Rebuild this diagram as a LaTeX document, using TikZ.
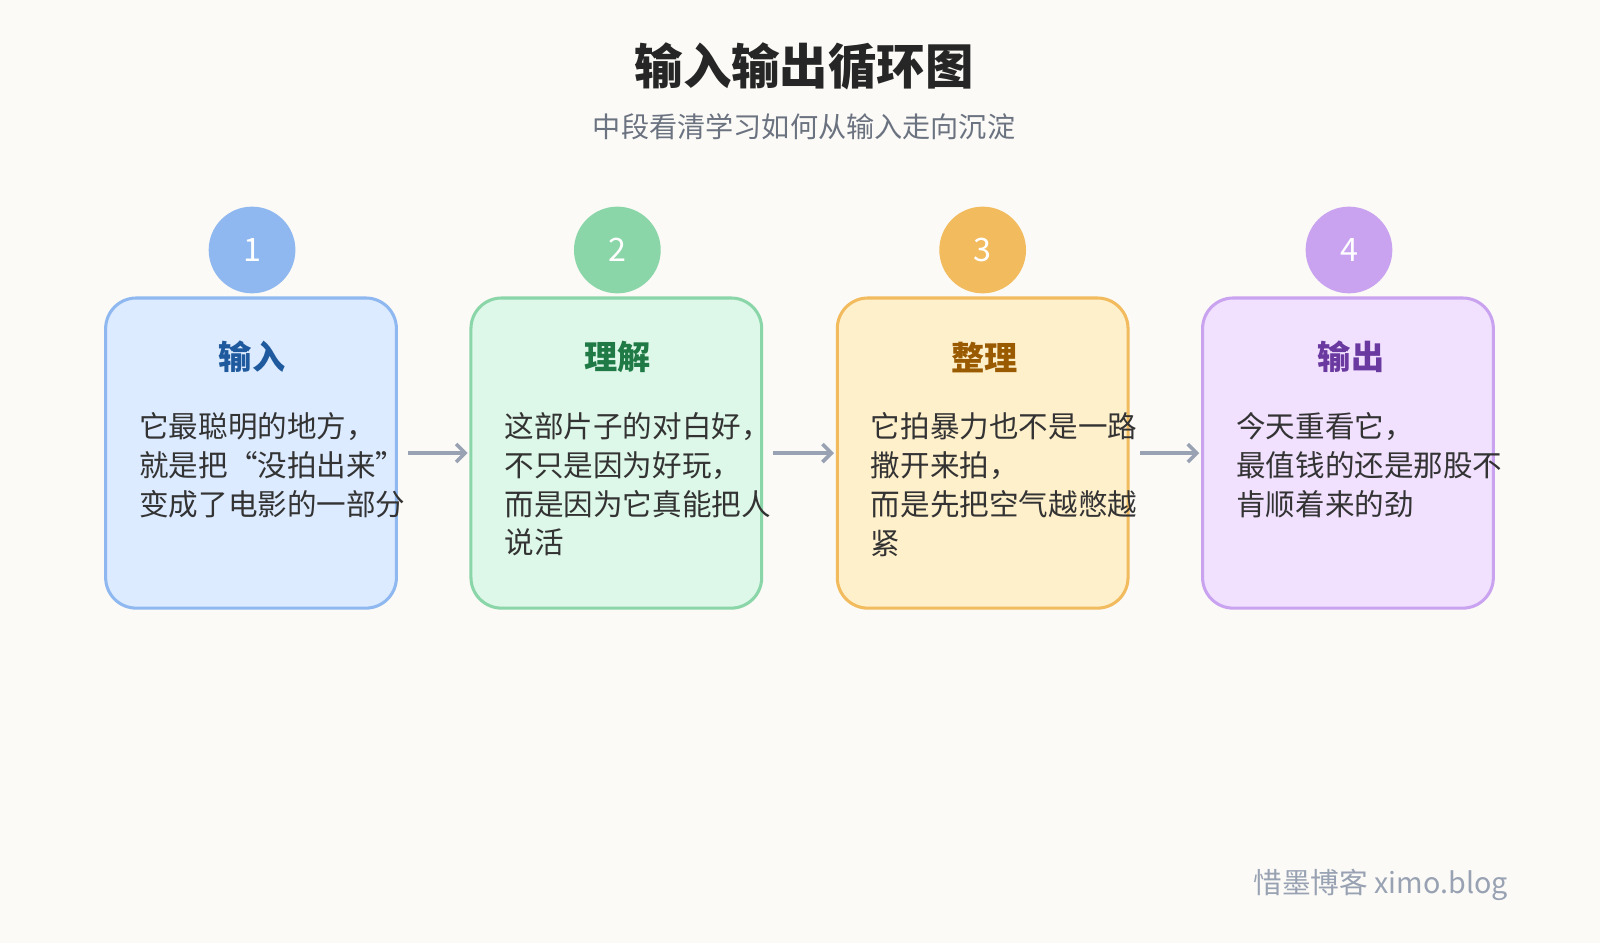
\documentclass[tikz,border=0pt]{standalone}
\usepackage{fontspec}
\setmainfont{Noto Sans CJK SC}
\usetikzlibrary{positioning}
\usetikzlibrary{arrows.meta}
\definecolor{bgc}{HTML}{FBFAF6}
\definecolor{txt}{HTML}{333333}
\definecolor{sub}{HTML}{6B7280}
\definecolor{arr}{HTML}{98A2B3}
\definecolor{lineA}{HTML}{8FB8F0}\definecolor{fillA}{HTML}{DCEBFF}\definecolor{headA}{HTML}{1F5A9E}
\definecolor{lineB}{HTML}{8AD6A8}\definecolor{fillB}{HTML}{DDF7E8}\definecolor{headB}{HTML}{1F7A45}
\definecolor{lineC}{HTML}{F2BB5E}\definecolor{fillC}{HTML}{FFF0CC}\definecolor{headC}{HTML}{9A5B00}
\definecolor{lineD}{HTML}{C9A3F0}\definecolor{fillD}{HTML}{F1E1FF}\definecolor{headD}{HTML}{6B3AA0}
\begin{document}
\begin{tikzpicture}[
        x = 0.02cm, y = -0.02cm, % pixel grid
        > = {Straight Barb[length=5pt]},
        semithick
    ]

    \tikzstyle{stage}=[
        draw, line width = 1.7pt, rounded corners = 0.6cm,
        minimum width = 5.7cm, minimum height = 6.08cm
    ]
    \tikzstyle{badge}=[
        circle, minimum size = 1.7cm, inner sep = 0pt,
        text = white, font = \fontsize{18}{20}\selectfont
    ]
    \tikzstyle{head}=[font = \bfseries\fontsize{18.5}{22}\selectfont]
    \tikzstyle{body}=[
        anchor = north west, inner sep = 0pt, align = left, text = txt,
        font = \fontsize{16.5}{21.6}\selectfont
    ]
    \tikzstyle{flow}=[->, draw = arr, line width = 2pt, shorten < = 5.7pt, shorten > = 1pt]

    \fill[bgc] (0,0) rectangle (1568,924.1);

    % title
    \node[text = black!85] (title) at (788,65) {\bfseries\fontsize{27}{32}\selectfont 输入输出循环图};
    \node[text = sub] (subtitle) at (788,124) {\fontsize{15.7}{18}\selectfont 中段看清学习如何从输入走向沉淀};

    % stages
    \node[stage, draw = lineA, fill = fillA] (S1) at (246,444) {};
    \node[stage, draw = lineB, fill = fillB] (S2) at (604,444) {};
    \node[stage, draw = lineC, fill = fillC] (S3) at (963,444) {};
    \node[stage, draw = lineD, fill = fillD] (S4) at (1321,444) {};

    \node[badge, fill = lineA] (B1) at (247,245) {1};
    \node[badge, fill = lineB] (B2) at (605,245) {2};
    \node[badge, fill = lineC] (B3) at (963,245) {3};
    \node[badge, fill = lineD] (B4) at (1322,245) {4};

    \node[head, text = headA] (H1) at (247,350) {输入};
    \node[head, text = headB] (H2) at (605,350) {理解};
    \node[head, text = headC] (H3) at (965,350) {整理};
    \node[head, text = headD] (H4) at (1324,350) {输出};

    \node[body] (T1) at (136,404) {它最聪明的地方，\\就是把“没拍出来”\\变成了电影的一部分};
    \node[body] (T2) at (494,404) {这部片子的对白好，\\不只是因为好玩，\\而是因为它真能把人\\说活};
    \node[body] (T3) at (853,404) {它拍暴力也不是一路\\撒开来拍，\\而是先把空气越憋越\\紧};
    \node[body] (T4) at (1211,404) {今天重看它，\\最值钱的还是那股不\\肯顺着来的劲};

    \path[flow] (S1) edge (S2);
    \path[flow] (S2) edge (S3);
    \path[flow] (S3) edge (S4);

    % footer
    \node[anchor = east, text = arr] (foot) at (1484,867) {\fontsize{16}{18}\selectfont 惜墨博客 ximo.blog};

    \pgfresetboundingbox
    \useasboundingbox (0,0) rectangle (1568,924.1);
\end{tikzpicture}
\end{document}
